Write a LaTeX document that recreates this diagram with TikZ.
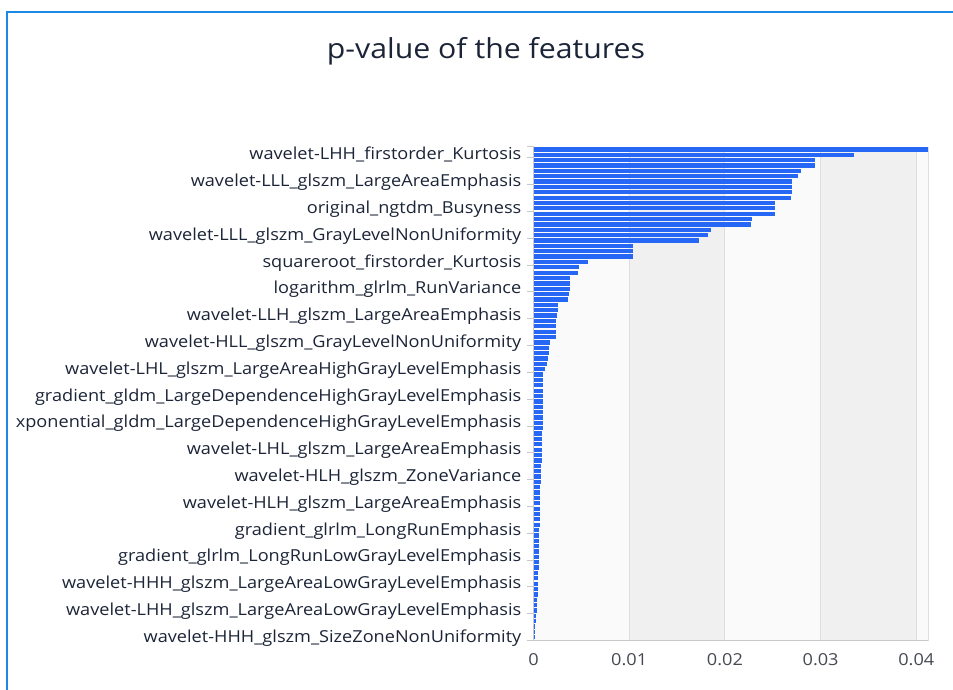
\documentclass[tikz,border=0pt]{standalone}
\usepackage{fontspec}
\setmainfont{Open Sans}
\newfontfamily\widefont[FakeStretch=1.1]{Open Sans}
\definecolor{barblue}{RGB}{38,104,245}
\definecolor{txt}{RGB}{28,37,56}
\definecolor{xtxt}{RGB}{70,74,82}
\definecolor{frameblue}{RGB}{30,136,229}
\definecolor{splitA}{RGB}{250,250,250}
\definecolor{splitB}{RGB}{240,240,240}
\definecolor{gridc}{RGB}{222,222,222}
\definecolor{axisc}{RGB}{200,200,200}
\begin{document}
\begin{tikzpicture}[x=1pt,y=-1pt,
  lab/.style={font=\widefont\fontsize{16.5}{19}\selectfont, text=txt, anchor=base east, inner sep=0pt},
  xlab/.style={font=\widefont\fontsize{16.5}{19}\selectfont, text=xtxt, anchor=base, inner sep=0pt},
  bar/.style={fill=barblue},
  axisline/.style={draw=axisc, line width=1pt},
  gridline/.style={draw=gridc, line width=1pt}]
\useasboundingbox (0,0) rectangle (953,690);
\fill[white] (0,0) rectangle (953,690);
% frame
\draw[frameblue, line width=1.6pt] (7,690) -- (7,12) -- (953,12);
% title
\node[font=\widefont\fontsize{27.5}{32}\selectfont, text=txt, anchor=base, inner sep=0pt] (title) at (486,59) {p-value of the features};
% split areas
\foreach \a/\b/\c in {533.5/629.2/splitA, 629.2/724.9/splitB, 724.9/820.6/splitA, 820.6/916.3/splitB, 916.3/928.3/splitA}
  \fill[\c] (\a,146.7) rectangle (\b,640.5);
\foreach \x in {629.2,724.9,820.6,916.3,928.3}
  \draw[gridline] (\x,146.7) -- (\x,640.5);
% bars (top to bottom)
\foreach \v [count=\i from 0] in {412,335,294,294,280,276,270,270,270,269,252,252,252,228,227,185,182,173,104,104,104,57,48,
  47,38,38,38,37,36,26,26,25,24,24,24,23,17,16,16,15,14,12,
  10,10,10,10,10,10,10,10,10,10,10,
  9,9,9,9,9,
  8.5,8.2,8.0,7.7,7.4,7.2,7.0,6.9,6.8,6.6,6.5,6.4,6.3,6.2,6.2,6.1,6.0,6.0,5.8,5.6,5.4,5.2,5.0,4.7,4.5,4.2,4.0,3.7,3.4,3.0,2.5,2.0,1.4,1.0}
  \fill[bar] (533.5,{146.7+\i*5.362+0.55}) rectangle ({533.5+0.957*\v},{146.7+(\i+1)*5.362-0.55});
% axes
\draw[axisline] (533.5,146.7) -- (533.5,640.5) -- (928.3,640.5);
\draw[axisline] (527,146.7) -- (533.5,146.7);
\foreach \k in {0,...,18}
  \draw[axisline] (527,{640.5-26.81*\k}) -- (533.5,{640.5-26.81*\k});
% y labels
\foreach \t [count=\k from 0] in {
  wavelet-LHH\_firstorder\_Kurtosis,
  wavelet-LLL\_glszm\_LargeAreaEmphasis,
  original\_ngtdm\_Busyness,
  wavelet-LLL\_glszm\_GrayLevelNonUniformity,
  squareroot\_firstorder\_Kurtosis,
  logarithm\_glrlm\_RunVariance,
  wavelet-LLH\_glszm\_LargeAreaEmphasis,
  wavelet-HLL\_glszm\_GrayLevelNonUniformity,
  wavelet-LHL\_glszm\_LargeAreaHighGrayLevelEmphasis,
  gradient\_gldm\_LargeDependenceHighGrayLevelEmphasis,
  xponential\_gldm\_LargeDependenceHighGrayLevelEmphasis,
  wavelet-LHL\_glszm\_LargeAreaEmphasis,
  wavelet-HLH\_glszm\_ZoneVariance,
  wavelet-HLH\_glszm\_LargeAreaEmphasis,
  gradient\_glrlm\_LongRunEmphasis,
  gradient\_glrlm\_LongRunLowGrayLevelEmphasis,
  wavelet-HHH\_glszm\_LargeAreaLowGrayLevelEmphasis,
  wavelet-LHH\_glszm\_LargeAreaLowGrayLevelEmphasis,
  wavelet-HHH\_glszm\_SizeZoneNonUniformity}
  \node[lab] (ylab\k) at (521.5,{159.8+26.81*\k}) {\t};
% x labels
\foreach \x/\t [count=\n] in {533.5/0, 629.2/0.01, 724.9/0.02, 820.6/0.03, 916.3/0.04}
  \node[xlab] (xlab\n) at (\x,665.5) {\t};
\end{tikzpicture}
\end{document}
